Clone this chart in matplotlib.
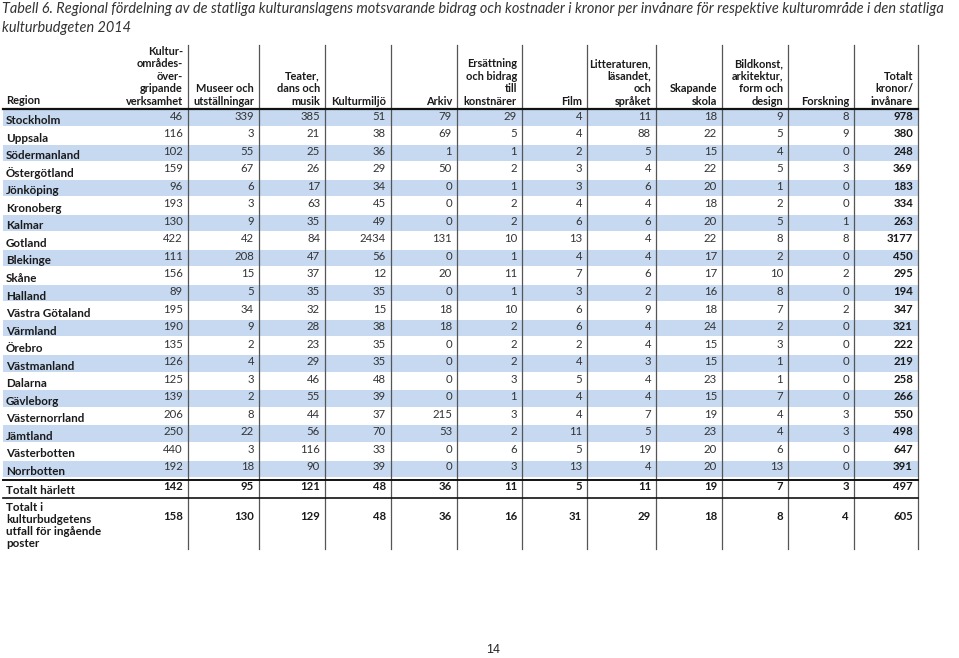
import matplotlib
matplotlib.use("Agg")
import matplotlib.pyplot as plt
from matplotlib.patches import Rectangle

FONT = "Lato"

title_lines = [
    "Tabell 6. Regional fördelning av de statliga kulturanslagens motsvarande bidrag och kostnader i kronor per invånare för respektive kulturområde i den statliga",
    "kulturbudgeten 2014",
]

columns = [
    "Kultur-\nområdes-\növer-\ngripande\nverksamhet",
    "Museer och\nutställningar",
    "Teater,\ndans och\nmusik",
    "Kulturmiljö",
    "Arkiv",
    "Ersättning\noch bidrag\ntill\nkonstnärer",
    "Film",
    "Litteraturen,\nläsandet,\noch\nspråket",
    "Skapande\nskola",
    "Bildkonst,\narkitektur,\nform och\ndesign",
    "Forskning",
    "Totalt\nkronor/\ninvånare",
]

regions = ["Stockholm", "Uppsala", "Södermanland", "Östergötland", "Jönköping",
           "Kronoberg", "Kalmar", "Gotland", "Blekinge", "Skåne", "Halland",
           "Västra Götaland", "Värmland", "Örebro", "Västmanland", "Dalarna",
           "Gävleborg", "Västernorrland", "Jämtland", "Västerbotten", "Norrbotten"]

values = [
    [46, 339, 385, 51, 79, 29, 4, 11, 18, 9, 8, 978],
    [116, 3, 21, 38, 69, 5, 4, 88, 22, 5, 9, 380],
    [102, 55, 25, 36, 1, 1, 2, 5, 15, 4, 0, 248],
    [159, 67, 26, 29, 50, 2, 3, 4, 22, 5, 3, 369],
    [96, 6, 17, 34, 0, 1, 3, 6, 20, 1, 0, 183],
    [193, 3, 63, 45, 0, 2, 4, 4, 18, 2, 0, 334],
    [130, 9, 35, 49, 0, 2, 6, 6, 20, 5, 1, 263],
    [422, 42, 84, 2434, 131, 10, 13, 4, 22, 8, 8, 3177],
    [111, 208, 47, 56, 0, 1, 4, 4, 17, 2, 0, 450],
    [156, 15, 37, 12, 20, 11, 7, 6, 17, 10, 2, 295],
    [89, 5, 35, 35, 0, 1, 3, 2, 16, 8, 0, 194],
    [195, 34, 32, 15, 18, 10, 6, 9, 18, 7, 2, 347],
    [190, 9, 28, 38, 18, 2, 6, 4, 24, 2, 0, 321],
    [135, 2, 23, 35, 0, 2, 2, 4, 15, 3, 0, 222],
    [126, 4, 29, 35, 0, 2, 4, 3, 15, 1, 0, 219],
    [125, 3, 46, 48, 0, 3, 5, 4, 23, 1, 0, 258],
    [139, 2, 55, 39, 0, 1, 4, 4, 15, 7, 0, 266],
    [206, 8, 44, 37, 215, 3, 4, 7, 19, 4, 3, 550],
    [250, 22, 56, 70, 53, 2, 11, 5, 23, 4, 3, 498],
    [440, 3, 116, 33, 0, 6, 5, 19, 20, 6, 0, 647],
    [192, 18, 90, 39, 0, 3, 13, 4, 20, 13, 0, 391],
]

total_label_1 = "Totalt härlett"
total_values_1 = [142, 95, 121, 48, 36, 11, 5, 11, 19, 7, 3, 497]
total_label_2 = "Totalt i\nkulturbudgetens\nutfall för ingående\nposter"
total_values_2 = [158, 130, 129, 48, 36, 16, 31, 29, 18, 8, 4, 605]

page_number = "14"

# ---- layout (pixel coordinates) ----
W, H = 959, 658
fig = plt.figure(figsize=(W / 100, H / 100), dpi=100)
ax = fig.add_axes([0, 0, 1, 1])
ax.set_xlim(0, W)
ax.set_ylim(H, 0)
ax.axis("off")

dividers = [188, 259, 325, 391, 457, 522, 587, 656, 722, 788, 854, 918]
left = 3
right = dividers[-1]
row_top0 = 109
pitch = 17.55
band_color = "#c6d9f1"
txt = "#1a1a1a"
num_col = "#333333"
fs_num = 8.2
fs_head = 7.9
fs_lab = 8.4

# title
ax.text(2, 9, title_lines[0], fontsize=10.45, style="italic", family=FONT,
        color="#333333", va="center", ha="left")
ax.text(2, 28, title_lines[1], fontsize=10.45, style="italic", family=FONT,
        color="#333333", va="center", ha="left")

# header
ax.text(6, 106.5, "Region", fontsize=fs_head, weight="bold", family=FONT,
        color=txt, va="bottom", ha="left")
for j, c in enumerate(columns):
    ax.text(dividers[j] - 5, 107, c, fontsize=fs_head, weight="bold", family=FONT,
            color=txt, va="bottom", ha="right", multialignment="right",
            linespacing=1.18)

# bands and rows
for i, (reg, vals) in enumerate(zip(regions, values)):
    top = row_top0 + i * pitch
    if i % 2 == 0:
        ax.add_patch(Rectangle((left, top + 0.5), right - left, pitch - 1.2,
                               facecolor=band_color, edgecolor="none", zorder=0))
    ax.text(6, top + 11.5, reg, fontsize=fs_lab, weight="bold", family=FONT,
            color=txt, va="center", ha="left")
    for j, v in enumerate(vals):
        last = j == len(vals) - 1
        ax.text(dividers[j] - 5, top + 7, str(v), fontsize=fs_num, family=FONT,
                color=txt if last else num_col, va="center", ha="right",
                weight="bold" if last else "normal")

# totals
ax.text(6, 490, total_label_1, fontsize=fs_lab, weight="bold", family=FONT,
        color=txt, va="center", ha="left")
for j, v in enumerate(total_values_1):
    ax.text(dividers[j] - 5, 487, str(v), fontsize=fs_num, weight="bold",
            family=FONT, color=txt, va="center", ha="right")
ax.text(6, 502, total_label_2, fontsize=fs_lab, weight="bold", family=FONT,
        color=txt, va="top", ha="left", linespacing=1.1)
for j, v in enumerate(total_values_2):
    ax.text(dividers[j] - 5, 516, str(v), fontsize=fs_num, weight="bold",
            family=FONT, color=txt, va="center", ha="right")

# horizontal rules
ax.plot([left, right], [108.5, 108.5], color="#111111", lw=1.6, zorder=3)
ax.plot([left, right], [480, 480], color="#111111", lw=1.4, zorder=3)
ax.plot([left, right], [498, 498], color="#111111", lw=1.2, zorder=3)

# vertical rules
for x in dividers:
    ax.plot([x, x], [45, 549], color="#555555", lw=0.9, zorder=2)

# page number
ax.text(493, 650, page_number, fontsize=9, family="Liberation Sans",
        color="#222222", va="center", ha="center")

fig.savefig("out.png", dpi=100)
